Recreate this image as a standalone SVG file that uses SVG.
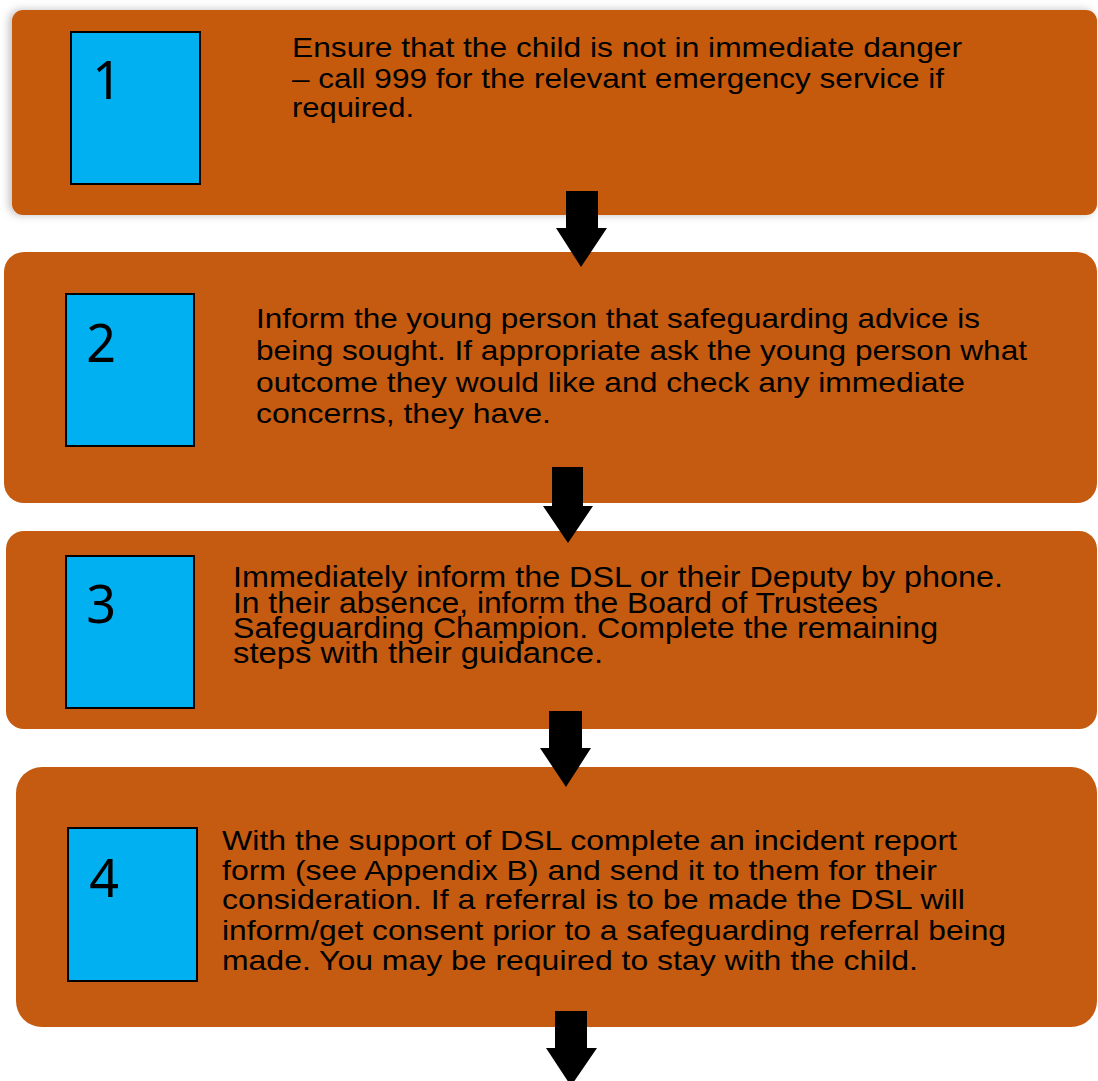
<svg xmlns="http://www.w3.org/2000/svg" width="1098" height="1081" viewBox="0 0 1098 1081">
<defs>
<style>
.box{fill:#C55A11;}
.num{fill:#00B0F0;stroke:#000;stroke-width:2;}
.digit{font-family:"Noto Sans","Open Sans",sans-serif;font-size:52px;fill:#000;text-anchor:middle;}
.txt{font-family:"Liberation Sans",Arial,sans-serif;font-size:28px;fill:#000;}
.cmp{font-family:"Liberation Sans",Arial,sans-serif;font-size:29px;fill:#000;}
.arrow{fill:#000;}
</style>
<filter id="sh" x="-5%" y="-10%" width="110%" height="120%">
<feDropShadow dx="-3" dy="0" stdDeviation="4" flood-color="#000" flood-opacity="0.25"/>
</filter>
</defs>
<rect width="1098" height="1081" fill="#fff"/>
<g id="node1">
<rect class="box" x="12" y="10" width="1085" height="205" rx="11" filter="url(#sh)"/>
<rect class="num" x="71" y="32" width="129" height="152"/>
<text class="digit" x="107" y="99">1</text>
<text class="txt" x="292" y="57" textLength="670" lengthAdjust="spacingAndGlyphs">Ensure that the child is not in immediate danger</text>
<text class="txt" x="292" y="88" textLength="652" lengthAdjust="spacingAndGlyphs">– call 999 for the relevant emergency service if</text>
<text class="txt" x="292" y="117" textLength="122" lengthAdjust="spacingAndGlyphs">required.</text>
</g>
<g id="node2">
<rect class="box" x="4" y="252" width="1093" height="251" rx="20"/>
<rect class="num" x="66" y="294" width="128" height="152"/>
<text class="digit" x="101" y="362">2</text>
<text class="txt" x="256" y="328" textLength="724" lengthAdjust="spacingAndGlyphs">Inform the young person that safeguarding advice is</text>
<text class="txt" x="256" y="360" textLength="771" lengthAdjust="spacingAndGlyphs">being sought. If appropriate ask the young person what</text>
<text class="txt" x="256" y="392" textLength="709" lengthAdjust="spacingAndGlyphs">outcome they would like and check any immediate</text>
<text class="txt" x="256" y="423" textLength="295" lengthAdjust="spacingAndGlyphs">concerns, they have.</text>
</g>
<g id="node3">
<rect class="box" x="6" y="531" width="1091" height="198" rx="18"/>
<rect class="num" x="66" y="556" width="128" height="152"/>
<text class="digit" x="101" y="623">3</text>
<text class="cmp" x="233" y="587" textLength="770" lengthAdjust="spacingAndGlyphs">Immediately inform the DSL or their Deputy by phone.</text>
<text class="cmp" x="233" y="613" textLength="645" lengthAdjust="spacingAndGlyphs">In their absence, inform the Board of Trustees</text>
<text class="cmp" x="233" y="638" textLength="705" lengthAdjust="spacingAndGlyphs">Safeguarding Champion.  Complete the remaining</text>
<text class="cmp" x="233" y="663" textLength="370" lengthAdjust="spacingAndGlyphs">steps with their guidance.</text>
</g>
<g id="node4">
<rect class="box" x="16" y="767" width="1081" height="260" rx="26"/>
<rect class="num" x="68" y="828" width="129" height="153"/>
<text class="digit" x="104" y="897">4</text>
<text class="txt" x="222" y="850" textLength="735" lengthAdjust="spacingAndGlyphs">With the support of DSL complete an incident report</text>
<text class="txt" x="222" y="880" textLength="715" lengthAdjust="spacingAndGlyphs">form (see Appendix B) and send it to them for their</text>
<text class="txt" x="222" y="909" textLength="743" lengthAdjust="spacingAndGlyphs">consideration. If a referral is to be made the DSL will</text>
<text class="txt" x="222" y="940" textLength="784" lengthAdjust="spacingAndGlyphs">inform/get consent prior to a safeguarding referral being</text>
<text class="txt" x="222" y="970" textLength="696" lengthAdjust="spacingAndGlyphs">made. You may be required to stay with the child.</text>
</g>
<g id="connectors">
<polygon class="arrow" points="566,191 598,191 598,228 607,228 581,267 556,228 566,228"/>
<polygon class="arrow" points="552,467 583,467 583,506 593,506 568,543 543,506 552,506"/>
<polygon class="arrow" points="549,711 582,711 582,748 591,748 566,787 540,748 549,748"/>
<polygon class="arrow" points="555,1011 587,1011 587,1048 597,1048 571,1086 546,1048 555,1048"/>
</g>
</svg>
